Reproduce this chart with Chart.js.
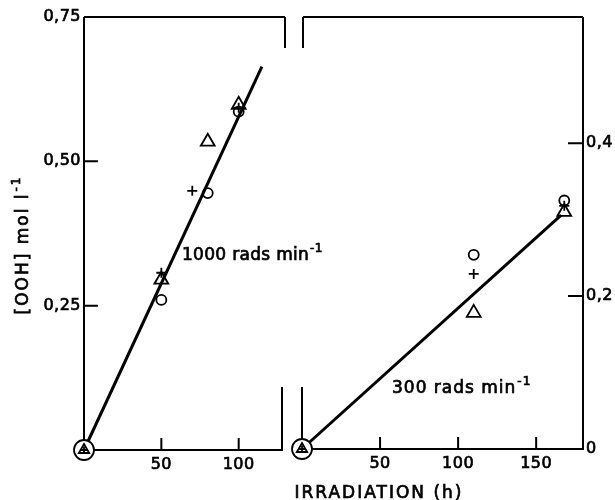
<!DOCTYPE html>
<html>
<head>
<meta charset="utf-8">
<script src="https://cdn.jsdelivr.net/npm/chart.js@4.4.1/dist/chart.umd.min.js"></script>
<style>
  html, body { margin: 0; padding: 0; background: #fff; }
  #wrap { position: relative; width: 615px; height: 500px; }
  #wrap canvas { position: absolute; left: 0; top: 0; }
</style>
</head>
<body>
<div id="wrap">
  <canvas id="fast" width="615" height="500"></canvas>
  <canvas id="slow" width="615" height="500"></canvas>
</div>
<script>
// 1000 rads/min run (left panel), [OOH] in mol/l against hours
const fastCircleX = [0, 50, 80, 100];
const fastCircleY = [0, 0.260, 0.445, 0.586];
const fastTriangleX = [0, 50, 80, 100];
const fastTriangleY = [0, 0.295, 0.534, 0.598];
const fastPlusX = [0, 50, 70, 100];
const fastPlusY = [0, 0.307, 0.449, 0.593];
const fastFitX = [0, 115];
const fastFitY = [0, 0.664];

// 300 rads/min run (right panel)
const slowCircleX = [0, 110, 168];
const slowCircleY = [0, 0.254, 0.325];
const slowTriangleX = [0, 110, 168];
const slowTriangleY = [0, 0.178, 0.310];
const slowPlusX = [0, 110, 168];
const slowPlusY = [0, 0.229, 0.318];
const slowFitX = [0, 166];
const slowFitY = [0, 0.306];

// axis ticks
const fastXTicks = [50, 100];
const fastYTicks = [0.25, 0.5, 0.75];
const slowXTicks = [50, 100, 150];
const slowYTicks = [0, 0.2, 0.4];

const FONT = '"DejaVu Sans", sans-serif';
const tickFont = { family: FONT, size: 16 };
const INK = 0.7; // extra stroke so the lettering reads a bit heavier

function pts (xs, ys) {
  return xs.map((x, i) => ({ x, y: ys[i] }));
}

const atOrigin = (ctx) => ctx.raw && ctx.raw.x === 0;

function seriesSets (circle, triangle, plus, fit) {
  return [
    { data: fit, showLine: true, borderColor: "#000", borderWidth: 3, pointRadius: 0, order: 5 },
    {
      data: circle, pointStyle: "circle",
      pointRadius: (c) => atOrigin(c) ? 10 : 5,
      pointBackgroundColor: (c) => atOrigin(c) ? "#fff" : "rgba(0,0,0,0)",
      order: 4
    },
    {
      data: triangle, pointStyle: "triangle",
      pointRadius: (c) => atOrigin(c) ? 6 : 8,
      pointBackgroundColor: "rgba(0,0,0,0)",
      order: 3
    },
    {
      data: plus, pointStyle: "cross",
      pointRadius: (c) => atOrigin(c) ? 3.5 : 5,
      order: 2
    }
  ].map((d) => Object.assign({
    clip: false,
    pointBorderColor: "#000",
    pointBorderWidth: 1.8,
    pointHoverRadius: 0
  }, d));
}

function inkText (ctx, text, x, y) {
  ctx.fillText(text, x, y);
  ctx.strokeText(text, x, y);
}

function supText (ctx, base, sup, x, y, size, spacing) {
  ctx.font = `${size}px ${FONT}`;
  ctx.letterSpacing = spacing + "px";
  ctx.textAlign = "left";
  ctx.textBaseline = "alphabetic";
  ctx.lineWidth = INK;
  ctx.strokeStyle = "#000";
  inkText(ctx, base, x, y);
  const w = ctx.measureText(base).width;
  ctx.font = `${Math.round(size * 0.7)}px ${FONT}`;
  inkText(ctx, sup, x + w + 1, y - size * 0.5);
}

function supWidth (ctx, base, sup, size, spacing) {
  ctx.letterSpacing = spacing + "px";
  ctx.font = `${size}px ${FONT}`;
  const w = ctx.measureText(base).width;
  ctx.font = `${Math.round(size * 0.7)}px ${FONT}`;
  return w + 1 + ctx.measureText(sup).width;
}

function strokeSegments (ctx, segs, width) {
  ctx.save();
  ctx.strokeStyle = "#000";
  ctx.lineWidth = width;
  ctx.beginPath();
  segs.forEach(([x1, y1, x2, y2]) => { ctx.moveTo(x1, y1); ctx.lineTo(x2, y2); });
  ctx.stroke();
  ctx.restore();
}

// tick labels get a little letter spacing, reset after drawing
const spacing = {
  id: "spacing",
  beforeDraw (chart) { chart.ctx.letterSpacing = "0.5px"; },
  afterDraw (chart) { chart.ctx.letterSpacing = "0px"; }
};

function baseScales (xMax, yMax, xTicks, yTicks, yPos, yWidth, xHeight, yFmt) {
  const tickStyle = { color: "#000", font: tickFont, textStrokeColor: "#000", textStrokeWidth: INK };
  return {
    x: {
      type: "linear", min: 0, max: xMax,
      grid: { display: false, drawTicks: false },
      border: { display: false },
      afterBuildTicks: (s) => { s.ticks = xTicks.map((v) => ({ value: v })); },
      afterFit: (s) => { s.height = xHeight; },
      ticks: Object.assign({ padding: 5, callback: (v) => String(v) }, tickStyle)
    },
    y: {
      type: "linear", min: 0, max: yMax, position: yPos,
      grid: { display: false, drawTicks: false },
      border: { display: false },
      afterBuildTicks: (s) => { s.ticks = yTicks.map((v) => ({ value: v })); },
      afterFit: (s) => { s.width = yWidth; },
      ticks: Object.assign({ padding: 3, callback: yFmt }, tickStyle)
    }
  };
}

const common = {
  responsive: false,
  animation: false,
  devicePixelRatio: 1,
  events: [],
  plugins: { legend: { display: false }, tooltip: { enabled: false } }
};

// left panel: 1000 rads/min
new Chart(document.getElementById("fast"), {
  type: "scatter",
  data: {
    datasets: seriesSets(
      pts(fastCircleX, fastCircleY),
      pts(fastTriangleX, fastTriangleY),
      pts(fastPlusX, fastPlusY),
      pts(fastFitX, fastFitY)
    )
  },
  options: Object.assign({}, common, {
    layout: { padding: { left: 0, top: 17, right: 333, bottom: 0 } },
    scales: baseScales(128, 0.75, fastXTicks, fastYTicks, "left", 84, 50,
      (v) => v.toFixed(2).replace(".", ","))
  }),
  plugins: [spacing, {
    id: "fastFrame",
    beforeDatasetsDraw (chart) {
      const { ctx, chartArea: a, scales: { x, y } } = chart;
      const segs = [
        [a.left, a.top, a.left, a.bottom],
        [a.left, a.top, a.right + 3, a.top],
        [a.right + 3, a.top, a.right + 3, a.top + 31],
        [a.right, a.bottom - 63, a.right, a.bottom + 1],
        [a.left, a.bottom, a.right, a.bottom]
      ];
      fastXTicks.forEach((v) => {
        const px = x.getPixelForValue(v);
        segs.push([px, a.bottom, px, a.bottom - 12]);
      });
      fastYTicks.forEach((v) => {
        const py = y.getPixelForValue(v);
        if (py > a.top + 2) segs.push([a.left, py, a.left + 14, py]);
      });
      strokeSegments(ctx, segs, 2);
    },
    afterDraw (chart) {
      const ctx = chart.ctx;
      ctx.save();
      ctx.fillStyle = "#000";
      supText(ctx, "1000 rads min", "-1", 182, 260, 17, 0.3);

      // vertical axis title
      const base = "[OOH] mol l";
      const w = supWidth(ctx, base, "-1", 17, 2);
      ctx.translate(28, 245);
      ctx.rotate(-Math.PI / 2);
      supText(ctx, base, "-1", -w / 2, 0, 17, 2);
      ctx.restore();
    }
  }]
});

// right panel: 300 rads/min
new Chart(document.getElementById("slow"), {
  type: "scatter",
  data: {
    datasets: seriesSets(
      pts(slowCircleX, slowCircleY),
      pts(slowTriangleX, slowTriangleY),
      pts(slowPlusX, slowPlusY),
      pts(slowFitX, slowFitY)
    )
  },
  options: Object.assign({}, common, {
    layout: { padding: { left: 302, top: 17, right: 0, bottom: 0 } },
    scales: baseScales(180, 0.565, slowXTicks, slowYTicks, "right", 32, 51,
      (v) => v === 0 ? "0" : v.toFixed(1).replace(".", ","))
  }),
  plugins: [spacing, {
    id: "slowFrame",
    beforeDatasetsDraw (chart) {
      const { ctx, chartArea: a, scales: { x, y } } = chart;
      const segs = [
        [a.left + 1, a.top, a.left + 1, a.top + 31],
        [a.left + 1, a.top, a.right, a.top],
        [a.right, a.top, a.right, a.bottom],
        [a.left, a.bottom, a.right + 1, a.bottom],
        [a.left, a.bottom - 62, a.left, a.bottom]
      ];
      slowXTicks.forEach((v) => {
        const px = x.getPixelForValue(v);
        segs.push([px, a.bottom, px, a.bottom - 12]);
      });
      slowYTicks.forEach((v) => {
        const py = y.getPixelForValue(v);
        if (py < a.bottom - 2) segs.push([a.right, py, a.right - 15, py]);
      });
      strokeSegments(ctx, segs, 2);
    },
    afterDraw (chart) {
      const ctx = chart.ctx;
      ctx.save();
      ctx.fillStyle = "#000";
      supText(ctx, "300 rads min", "-1", 392, 393, 17, 1);

      // shared horizontal axis title
      ctx.font = `17px ${FONT}`;
      ctx.letterSpacing = "2px";
      ctx.textAlign = "center";
      ctx.textBaseline = "alphabetic";
      ctx.lineWidth = INK;
      ctx.strokeStyle = "#000";
      inkText(ctx, "IRRADIATION (h)", 379, 498);
      ctx.restore();
    }
  }]
});
</script>
</body>
</html>
